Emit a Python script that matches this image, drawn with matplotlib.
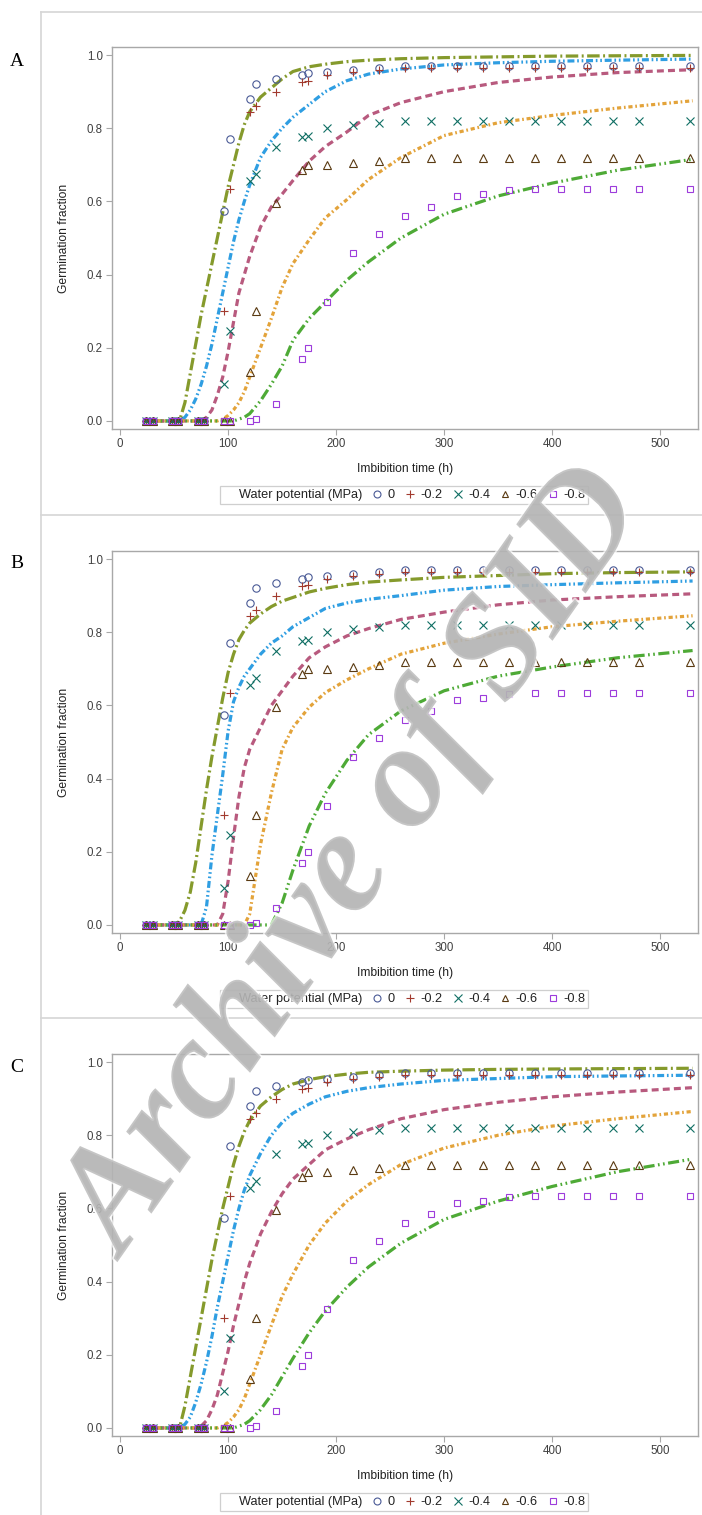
import matplotlib
matplotlib.use("Agg")
import matplotlib.pyplot as plt
from matplotlib.lines import Line2D
import matplotlib.patheffects as pe

plt.rcParams['font.family'] = ['Liberation Sans', 'DejaVu Sans']
plt.rcParams['lines.scale_dashes'] = False

# observed germination fractions (same in the three panels)
obs_t = [24, 30, 48, 54, 72, 78, 96, 102, 120, 126, 144, 168, 174, 192, 216, 240,
         264, 288, 312, 336, 360, 384, 408, 432, 456, 480, 528]
obs_0 = [0, 0, 0, 0, 0, 0, 0.575, 0.77, 0.88, 0.92, 0.935, 0.945, 0.95, 0.955, 0.96, 0.965,
         0.97, 0.97, 0.97, 0.97, 0.97, 0.97, 0.97, 0.97, 0.97, 0.97, 0.97]
obs_m02 = [0, 0, 0, 0, 0, 0, 0.30, 0.635, 0.845, 0.86, 0.90, 0.925, 0.93, 0.945, 0.955, 0.96,
           0.965, 0.965, 0.965, 0.965, 0.965, 0.965, 0.965, 0.965, 0.965, 0.965, 0.965]
obs_m04 = [0, 0, 0, 0, 0, 0, 0.10, 0.245, 0.655, 0.675, 0.75, 0.775, 0.78, 0.80, 0.81, 0.815,
           0.82, 0.82, 0.82, 0.82, 0.82, 0.82, 0.82, 0.82, 0.82, 0.82, 0.82]
obs_m06 = [0, 0, 0, 0, 0, 0, 0.0, 0.0, 0.135, 0.30, 0.595, 0.685, 0.70, 0.70, 0.705, 0.71,
           0.72, 0.72, 0.72, 0.72, 0.72, 0.72, 0.72, 0.72, 0.72, 0.72, 0.72]
obs_m08 = [0, 0, 0, 0, 0, 0, 0.0, 0.0, 0.0, 0.005, 0.045, 0.17, 0.20, 0.325, 0.46, 0.51,
           0.56, 0.585, 0.615, 0.62, 0.63, 0.635, 0.635, 0.635, 0.635, 0.635, 0.635]

# fitted curves at these times
fit_t = [24, 50, 55, 60, 65, 70, 75, 80, 85, 90, 95, 100, 105, 110, 115, 120, 130, 140,
         150, 160, 175, 190, 210, 230, 260, 300, 350, 400, 460, 530]

fit_a_0 = [0, 0, 0, 0.05, 0.13, 0.21, 0.29, 0.36, 0.43, 0.50, 0.57, 0.64, 0.70, 0.76, 0.81,
           0.845, 0.885, 0.91, 0.935, 0.955, 0.968, 0.975, 0.982, 0.986, 0.99, 0.993, 0.995,
           0.997, 0.998, 0.999]
fit_a_m02 = [0, 0, 0, 0.01, 0.03, 0.06, 0.10, 0.15, 0.21, 0.28, 0.35, 0.42, 0.49, 0.55, 0.60,
             0.645, 0.72, 0.765, 0.80, 0.83, 0.865, 0.90, 0.93, 0.948, 0.962, 0.973, 0.979,
             0.983, 0.986, 0.989]
fit_a_m04 = [0, 0, 0, 0, 0, 0, 0, 0.01, 0.03, 0.07, 0.12, 0.19, 0.27, 0.35, 0.40, 0.45, 0.53,
             0.585, 0.62, 0.657, 0.71, 0.75, 0.79, 0.835, 0.87, 0.90, 0.925, 0.94, 0.952, 0.96]
fit_a_m06 = [0, 0, 0, 0, 0, 0, 0, 0, 0, 0, 0.005, 0.015, 0.03, 0.05, 0.08, 0.12, 0.20, 0.28,
             0.365, 0.43, 0.495, 0.555, 0.605, 0.66, 0.72, 0.78, 0.815, 0.835, 0.855, 0.875]
fit_a_m08 = [0, 0, 0, 0, 0, 0, 0, 0, 0, 0, 0, 0, 0, 0.005, 0.01, 0.02, 0.055, 0.10, 0.15,
             0.22, 0.28, 0.325, 0.385, 0.435, 0.50, 0.565, 0.615, 0.65, 0.685, 0.715]

fit_b_0 = [0, 0, 0.01, 0.04, 0.09, 0.17, 0.27, 0.37, 0.46, 0.54, 0.62, 0.69, 0.74, 0.78, 0.805,
           0.825, 0.85, 0.87, 0.885, 0.895, 0.91, 0.92, 0.93, 0.937, 0.943, 0.95, 0.955, 0.96,
           0.963, 0.965]
fit_b_m02 = [0, 0, 0, 0, 0, 0, 0, 0.05, 0.19, 0.30, 0.41, 0.53, 0.61, 0.65, 0.68, 0.70, 0.74,
             0.77, 0.79, 0.815, 0.84, 0.865, 0.88, 0.89, 0.90, 0.915, 0.925, 0.93, 0.935, 0.94]
fit_b_m04 = [0, 0, 0, 0, 0, 0, 0, 0, 0, 0, 0.03, 0.12, 0.24, 0.35, 0.43, 0.48, 0.54, 0.60,
             0.64, 0.68, 0.73, 0.76, 0.79, 0.81, 0.835, 0.855, 0.875, 0.888, 0.897, 0.905]
fit_b_m06 = [0, 0, 0, 0, 0, 0, 0, 0, 0, 0, 0, 0, 0, 0, 0, 0.03, 0.22, 0.36, 0.48, 0.54,
             0.595, 0.635, 0.67, 0.70, 0.74, 0.77, 0.795, 0.815, 0.83, 0.845]
fit_b_m08 = [0, 0, 0, 0, 0, 0, 0, 0, 0, 0, 0, 0, 0, 0, 0, 0, 0, 0, 0.06, 0.15, 0.27, 0.36,
             0.45, 0.52, 0.585, 0.64, 0.68, 0.705, 0.73, 0.75]

fit_c_0 = [0, 0, 0, 0.06, 0.14, 0.22, 0.30, 0.38, 0.46, 0.53, 0.60, 0.66, 0.72, 0.77, 0.81,
           0.84, 0.88, 0.905, 0.925, 0.94, 0.952, 0.96, 0.967, 0.972, 0.975, 0.978, 0.98,
           0.981, 0.982, 0.983]
fit_c_m02 = [0, 0, 0, 0.01, 0.03, 0.07, 0.12, 0.18, 0.25, 0.33, 0.40, 0.47, 0.54, 0.60, 0.65,
             0.69, 0.75, 0.80, 0.835, 0.86, 0.885, 0.905, 0.92, 0.93, 0.94, 0.95, 0.955, 0.96,
             0.962, 0.964]
fit_c_m04 = [0, 0, 0, 0, 0, 0, 0.005, 0.02, 0.05, 0.09, 0.15, 0.21, 0.28, 0.34, 0.40, 0.45,
             0.53, 0.59, 0.64, 0.68, 0.72, 0.76, 0.79, 0.815, 0.845, 0.87, 0.89, 0.905, 0.918,
             0.93]
fit_c_m06 = [0, 0, 0, 0, 0, 0, 0, 0, 0, 0, 0.005, 0.015, 0.03, 0.05, 0.08, 0.12, 0.20, 0.28,
             0.36, 0.42, 0.50, 0.56, 0.62, 0.665, 0.72, 0.765, 0.80, 0.825, 0.845, 0.865]
fit_c_m08 = [0, 0, 0, 0, 0, 0, 0, 0, 0, 0, 0, 0, 0, 0.005, 0.01, 0.02, 0.05, 0.09, 0.14, 0.19,
             0.26, 0.32, 0.385, 0.44, 0.505, 0.57, 0.62, 0.66, 0.70, 0.735]

potential_labels = ['0', '-0.2', '-0.4', '-0.6', '-0.8']
panel_letters = ['A', 'B', 'C']

# styles
marker_shapes = ['o', '+', 'x', '^', 's']
marker_sizes = [5.3, 6.0, 5.6, 5.3, 5.0]
marker_colors = ['#4a5a96', '#A23A2E', '#0f6e63', '#5a3a12', '#9D3CDB']
line_colors = ['#859a2c', '#2f9ee2', '#b85a7e', '#e3a33a', '#4eaa36']
line_dashes = [(0, (9, 2.5, 1.4, 2.5)),
               (0, (5, 2, 1.2, 2, 1.2, 2)),
               (0, (5, 3)),
               (0, (3, 2, 1.2, 2)),
               (0, (8, 2.5, 1.2, 2.5, 1.2, 2.5))]

W, H = 702, 1515
fig = plt.figure(figsize=(W / 100, H / 100), dpi=100)

frame_tops = [12, 515, 1018]
plot_tops = [47, 551, 1054]
plot_h = 382
grid_col = '#d6d6d6'
spine_col = '#a8a8a8'
text_col = '#404040'

# outer frame lines of the three graph blocks
fig.add_artist(Line2D([41 / W, 41 / W], [0, 1 - frame_tops[0] / H], transform=fig.transFigure,
                      color=grid_col, lw=1.2))
for ft in frame_tops:
    fig.add_artist(Line2D([41 / W, 1], [1 - ft / H, 1 - ft / H], transform=fig.transFigure,
                          color=grid_col, lw=1.2))

observed = [obs_0, obs_m02, obs_m04, obs_m06, obs_m08]
fits = [[fit_a_0, fit_a_m02, fit_a_m04, fit_a_m06, fit_a_m08],
        [fit_b_0, fit_b_m02, fit_b_m04, fit_b_m06, fit_b_m08],
        [fit_c_0, fit_c_m02, fit_c_m04, fit_c_m06, fit_c_m08]]

for p in range(3):
    top = plot_tops[p]
    ax = fig.add_axes([112 / W, 1 - (top + plot_h) / H, 586 / W, plot_h / H])
    for k in range(5):
        ax.plot(fit_t, fits[p][k], color=line_colors[k], lw=2.3, linestyle=line_dashes[k],
                solid_capstyle='butt', dash_capstyle='butt', zorder=2)
    for k in range(5):
        ax.plot(obs_t, observed[k], linestyle='none', marker=marker_shapes[k],
                markersize=marker_sizes[k], markerfacecolor='none',
                markeredgecolor=marker_colors[k], markeredgewidth=0.8, zorder=3)
    ax.set_xlim(-7.5, 535)
    ax.set_ylim(-0.022, 1.022)
    ax.set_xticks([0, 100, 200, 300, 400, 500])
    ax.set_yticks([0.0, 0.2, 0.4, 0.6, 0.8, 1.0])
    ax.set_yticklabels(['0.0', '0.2', '0.4', '0.6', '0.8', '1.0'])
    for s in ax.spines.values():
        s.set_color(spine_col)
        s.set_linewidth(1.0)
    ax.tick_params(colors=spine_col, labelcolor=text_col, labelsize=8.3, length=4, width=0.8,
                   pad=2.5)
    ax.set_xlabel('Imbibition time (h)', fontsize=8.7, color='#222222', labelpad=9)
    ax.set_ylabel('Germination fraction', fontsize=8.7, color='#222222', labelpad=12)

    handles = [Line2D([], [], linestyle='none')]
    labels = ['Water potential (MPa)']
    for k in range(5):
        handles.append(Line2D([], [], linestyle='none', marker=marker_shapes[k],
                              markersize=marker_sizes[k] - 0.3, markerfacecolor='none',
                              markeredgecolor=marker_colors[k], markeredgewidth=0.8))
        labels.append(potential_labels[k])
    leg = ax.legend(handles, labels, ncol=6, loc='center',
                    bbox_to_anchor=(404 / W, 1 - (top + 448) / H),
                    bbox_transform=fig.transFigure, fontsize=9.2, frameon=True,
                    fancybox=False, edgecolor='#c4c4c4', handlelength=0.9,
                    handletextpad=0.35, columnspacing=0.75, borderpad=0.25)
    leg.get_frame().set_linewidth(0.9)
    for t in leg.get_texts():
        t.set_color('#222222')

    fig.text(17 / W, 1 - (frame_tops[p] + 49) / H, panel_letters[p], fontsize=14,
             family='Liberation Serif', color='black', ha='center', va='center',
             bbox=dict(facecolor='white', edgecolor='none', pad=8))

# watermark over the figure
fig.text(355 / W, 1 - 860 / H, 'Archive of SID', rotation=55, rotation_mode='anchor',
         fontsize=106, family='Liberation Serif', weight='bold', style='italic',
         color='#b4b4b4', alpha=0.7, ha='center', va='center', zorder=20,
         path_effects=[pe.withStroke(linewidth=2.5, foreground='white')])

fig.savefig('out.png', dpi=100)
